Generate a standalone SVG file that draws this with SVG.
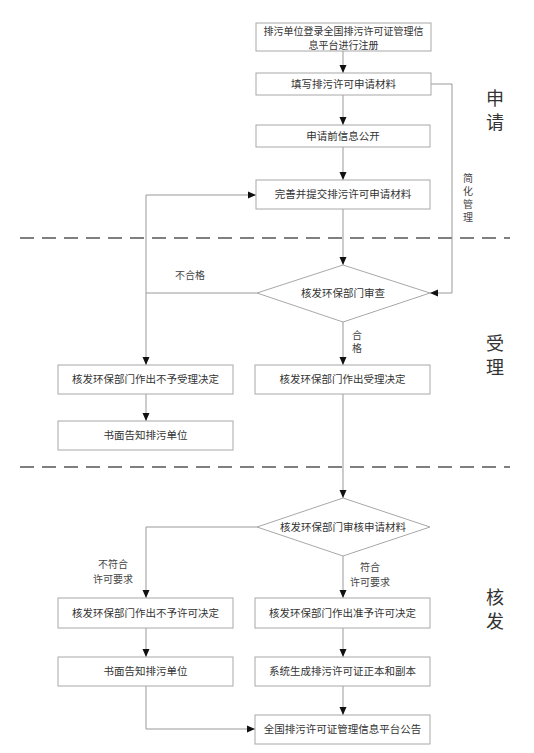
<svg xmlns="http://www.w3.org/2000/svg" width="534" height="753" viewBox="0 0 534 753">
<style>
.box{fill:#fff;stroke:#a8a8a8;stroke-width:1}
.t{font-family:"Noto Sans CJK SC","Liberation Sans",sans-serif;font-size:10.5px;fill:#333;text-anchor:middle}
.t2{font-family:"Noto Sans CJK SC","Liberation Sans",sans-serif;font-size:10px;fill:#333;text-anchor:middle}
.lbl{font-family:"Noto Sans CJK SC","Liberation Sans",sans-serif;font-size:10px;fill:#444;text-anchor:middle}
.vl{font-family:"Noto Sans CJK SC","Liberation Sans",sans-serif;font-size:10px;fill:#444;writing-mode:vertical-rl;letter-spacing:3px}
.sec{font-family:"Noto Sans CJK SC","Liberation Sans",sans-serif;font-size:18px;fill:#333;writing-mode:vertical-rl;letter-spacing:6px}
.c{fill:none;stroke:#999;stroke-width:1}
.dash{stroke:#555;stroke-width:1.5;stroke-dasharray:14 8}
</style>
<defs>
<marker id="ah" viewBox="0 0 8 8" refX="8" refY="4" markerWidth="8" markerHeight="8" orient="auto" markerUnits="userSpaceOnUse">
<path d="M0 0.5L8 4L0 7.5z" fill="#111"/>
</marker>
</defs>
<rect width="534" height="753" fill="#fff"/>
<g id="dividers">
<line class="dash" x1="20" y1="238" x2="510" y2="238"/>
<line class="dash" x1="20" y1="467" x2="510" y2="467"/>
</g>
<g id="sections">
<text class="sec" x="495" y="89">申请</text>
<text class="sec" x="495" y="334">受理</text>
<text class="sec" x="495" y="588">核发</text>
</g>
<g id="connectors">
<path class="c" d="M343 51V73" marker-end="url(#ah)"/>
<path class="c" d="M343 95V125" marker-end="url(#ah)"/>
<path class="c" d="M343 147V180" marker-end="url(#ah)"/>
<path class="c" d="M343 209V265" marker-end="url(#ah)"/>
<path class="c" d="M431 84H452V293H430" marker-end="url(#ah)"/>
<path class="c" d="M257 293H146V195H256" marker-end="url(#ah)"/>
<path class="c" d="M146 293V365" marker-end="url(#ah)"/>
<path class="c" d="M343 322V365" marker-end="url(#ah)"/>
<path class="c" d="M146 394V421" marker-end="url(#ah)"/>
<path class="c" d="M343 394V498" marker-end="url(#ah)"/>
<path class="c" d="M257 527H146V598" marker-end="url(#ah)"/>
<path class="c" d="M343 556V598" marker-end="url(#ah)"/>
<path class="c" d="M146 628V657" marker-end="url(#ah)"/>
<path class="c" d="M343 628V657" marker-end="url(#ah)"/>
<path class="c" d="M343 686V715" marker-end="url(#ah)"/>
<path class="c" d="M146 686V729H255" marker-end="url(#ah)"/>
<text class="vl" x="468" y="173">简化管理</text>
<text class="lbl" x="190" y="279">不合格</text>
<text class="vl" x="357" y="330">合格</text>
<text class="lbl" x="113" y="568">不符合</text>
<text class="lbl" x="113" y="582.5">许可要求</text>
<text class="lbl" x="370" y="571">符合</text>
<text class="lbl" x="370" y="585.5">许可要求</text>
</g>
<g id="n1"><rect class="box" x="256" y="23" width="175" height="28"/><text class="t2" x="343.5" y="34.5">排污单位登录全国排污许可证管理信</text><text class="t2" x="343.5" y="49">息平台进行注册</text></g>
<g id="n2"><rect class="box" x="256" y="73" width="175" height="22"/><text class="t" x="343.5" y="88">填写排污许可申请材料</text></g>
<g id="n3"><rect class="box" x="256" y="125" width="174" height="22"/><text class="t" x="343" y="140">申请前信息公开</text></g>
<g id="n4"><rect class="box" x="256" y="180" width="174" height="29"/><text class="t" x="343" y="198">完善并提交排污许可申请材料</text></g>
<g id="d1"><path class="box" d="M257 293L343 265L430 293L343 322Z"/><text class="t" x="343" y="297">核发环保部门审查</text></g>
<g id="n5"><rect class="box" x="58" y="365" width="175" height="29"/><text class="t" x="145.5" y="383">核发环保部门作出不予受理决定</text></g>
<g id="n6"><rect class="box" x="255" y="365" width="175" height="29"/><text class="t" x="342.5" y="383">核发环保部门作出受理决定</text></g>
<g id="n7"><rect class="box" x="58" y="421" width="175" height="29"/><text class="t" x="145.5" y="439">书面告知排污单位</text></g>
<g id="d2"><path class="box" d="M257 527L343 498L430 527L343 556Z"/><text class="t" x="343" y="531">核发环保部门审核申请材料</text></g>
<g id="n8"><rect class="box" x="58" y="598" width="175" height="30"/><text class="t" x="145.5" y="617">核发环保部门作出不予许可决定</text></g>
<g id="n9"><rect class="box" x="255" y="598" width="175" height="30"/><text class="t" x="342.5" y="617">核发环保部门作出准予许可决定</text></g>
<g id="n10"><rect class="box" x="58" y="657" width="175" height="29"/><text class="t" x="145.5" y="675">书面告知排污单位</text></g>
<g id="n11"><rect class="box" x="255" y="657" width="175" height="29"/><text class="t" x="342.5" y="675">系统生成排污许可证正本和副本</text></g>
<g id="n12"><rect class="box" x="255" y="715" width="175" height="29"/><text class="t" x="342.5" y="733">全国排污许可证管理信息平台公告</text></g>
</svg>
